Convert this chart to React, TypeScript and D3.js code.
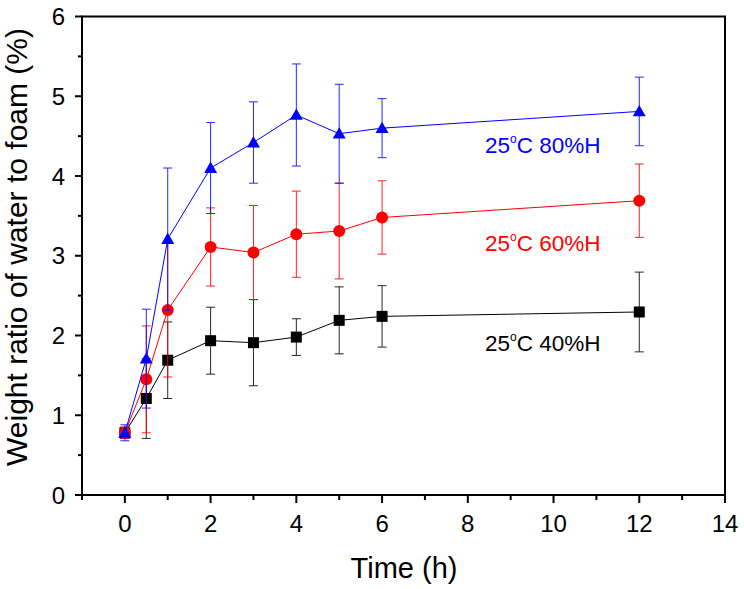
import React from "react";
import * as d3 from "d3";

const times = [0, 0.5, 1, 2, 3, 4, 5, 6, 12];
const rh40 = [0.78, 1.21, 1.69, 1.935, 1.91, 1.98, 2.19, 2.24, 2.295];
const rh40Err = [0.07, 0.5, 0.48, 0.42, 0.54, 0.23, 0.42, 0.385, 0.5];
const rh60 = [0.78, 1.45, 2.32, 3.11, 3.04, 3.27, 3.31, 3.48, 3.69];
const rh60Err = [0.07, 0.67, 0.84, 0.49, 0.59, 0.54, 0.6, 0.46, 0.46];
const rh80 = [0.78, 1.71, 3.21, 4.1, 4.42, 4.765, 4.53, 4.6, 4.81];
const rh80Err = [0.1, 0.62, 0.89, 0.57, 0.51, 0.64, 0.62, 0.37, 0.43];

const xMajor = [0, 2, 4, 6, 8, 10, 12, 14];
const xMinor = [-1, 1, 3, 5, 7, 9, 11, 13];
const yMajor = [0, 1, 2, 3, 4, 5, 6];
const yMinor = [0.5, 1.5, 2.5, 3.5, 4.5, 5.5];

const seriesLabels = ["40%H", "60%H", "80%H"];
const labelValues = [1.81, 3.06, 4.29];

const W = 744, H = 589;
const L = 82, R = 725, T = 16.5, B = 495;

export default function App() {
  const x = d3.scaleLinear().domain([-1, 14]).range([L, R]);
  const y = d3.scaleLinear().domain([0, 6]).range([B, T]);
  const line = d3.line<number>().x((_, i) => x(times[i])).y((d) => y(d));

  const series = [
    { vals: rh40, err: rh40Err, color: "#000000", shape: "square" },
    { vals: rh60, err: rh60Err, color: "#ff0000", shape: "circle" },
    { vals: rh80, err: rh80Err, color: "#0000ff", shape: "triangle" },
  ];
  const font = "'Liberation Sans', Arial, sans-serif";

  const marker = (shape: string, cx: number, cy: number, color: string, k: number) => {
    if (shape === "square") return <rect key={k} x={cx - 5.5} y={cy - 5.5} width={11} height={11} fill={color} />;
    if (shape === "circle") return <circle key={k} cx={cx} cy={cy} r={6} fill={color} />;
    const s = 6.5;
    return <path key={k} d={`M${cx},${cy - s}L${cx + s},${cy + s * 0.75}L${cx - s},${cy + s * 0.75}Z`} fill={color} />;
  };

  return (
    <svg width={W} height={H} style={{ position: "absolute", left: 0, top: 0, background: "#fff" }}>
      <rect x={0} y={0} width={W} height={H} fill="#fff" />
      {series.map((s, si) => (
        <g key={si}>
          <path d={line(s.vals) || ""} fill="none" stroke={s.color} strokeWidth={1} />
          {s.vals.map((v, i) => {
            const cx = x(times[i]);
            const y1 = y(v + s.err[i]), y2 = y(v - s.err[i]);
            return (
              <g key={i} stroke={s.color} strokeWidth={1} opacity={0.85}>
                <line x1={cx} x2={cx} y1={y1} y2={y2} />
                <line x1={cx - 4.5} x2={cx + 4.5} y1={y1} y2={y1} />
                <line x1={cx - 4.5} x2={cx + 4.5} y1={y2} y2={y2} />
              </g>
            );
          })}
          {s.vals.map((v, i) => marker(s.shape, x(times[i]), y(v), s.color, i))}
        </g>
      ))}
      <rect x={L} y={T} width={R - L} height={B - T} fill="none" stroke="#000" strokeWidth={2} />
      {xMajor.map((t) => (
        <g key={"xm" + t}>
          <line x1={x(t)} x2={x(t)} y1={B} y2={B + 8} stroke="#000" strokeWidth={2} />
          <text x={x(t)} y={B + 37} textAnchor="middle" fontFamily={font} fontSize={24} fill="#000">{t}</text>
        </g>
      ))}
      {xMinor.map((t) => (
        <line key={"xn" + t} x1={x(t)} x2={x(t)} y1={B} y2={B + 5} stroke="#000" strokeWidth={2} />
      ))}
      {yMajor.map((t) => (
        <g key={"ym" + t}>
          <line x1={L} x2={L - 7} y1={y(t)} y2={y(t)} stroke="#000" strokeWidth={2} />
          <text x={65} y={y(t) + 8.5} textAnchor="end" fontFamily={font} fontSize={24} fill="#000">{t}</text>
        </g>
      ))}
      {yMinor.map((t) => (
        <line key={"yn" + t} x1={L} x2={L - 4} y1={y(t)} y2={y(t)} stroke="#000" strokeWidth={2} />
      ))}
      <text x={404} y={578} textAnchor="middle" fontFamily={font} fontSize={29} fill="#000">Time (h)</text>
      <text transform={`translate(27,247) rotate(-90)`} textAnchor="middle" fontFamily={font} fontSize={30} fill="#000">
        Weight ratio of water to foam (%)
      </text>
      {seriesLabels.map((lab, i) => (
        <text key={lab} x={485} y={y(labelValues[i])} fontFamily={font} fontSize={22.5} fill={series[i].color}>
          25<tspan fontSize={12} dy={-10}>o</tspan><tspan dy={10}>C {lab}</tspan>
        </text>
      ))}
    </svg>
  );
}
